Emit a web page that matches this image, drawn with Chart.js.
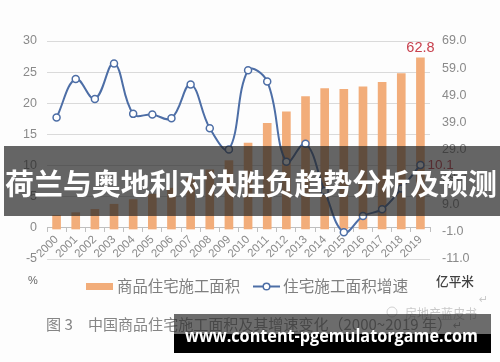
<!DOCTYPE html>
<html><head><meta charset="utf-8">
<script src="https://cdn.jsdelivr.net/npm/chart.js@4"></script>
<style>html,body{margin:0;padding:0;background:#fdfdfd}#c{display:block}</style>
</head><body>
<canvas id="c" width="500" height="362"></canvas>
<script>
const years = ['2000','2001','2002','2003','2004','2005','2006','2007','2008','2009','2010','2011','2012','2013','2014','2015','2016','2017','2018','2019'];
const areaValues = [5.0, 6.0, 7.2, 9.1, 10.8, 12.8, 15.0, 18.7, 21.7, 25.1, 31.5, 38.8, 43.0, 48.6, 51.5, 51.3, 52.2, 53.8, 57.0, 62.8];
const growthValues = [17.7, 23.9, 20.7, 26.4, 18.3, 18.2, 17.6, 23.0, 16.0, 12.6, 25.3, 23.5, 10.6, 13.5, 5.9, -0.7, 1.9, 3.0, 6.3, 10.1];
const seriesNames = ['商品住宅施工面积', '住宅施工面积增速'];
const leftAxisRange = [-5, 30, 5];
const rightAxisRange = [-11, 69, 10];
const titleText = '荷兰与奥地利对决胜负趋势分析及预测';
const captionNum = '图 3';
const captionText = '中国商品住宅施工面积及其增速变化（2000~2019 年）';
const watermarkText = '房地产蓝皮书';
const bannerText = 'www.content-pgemulatorgame.com';

const BAR_COLOR = '#f2ad7a';
const LINE_COLOR = '#4d6ea6';
const CJK = '"Noto Sans CJK SC", sans-serif';

function fitText(ctx, text, x, y, width, align) {
  const w = ctx.measureText(text).width;
  ctx.save();
  ctx.translate(x, y);
  if (w > 0) ctx.scale(width / w, 1);
  ctx.textAlign = 'left';
  ctx.fillText(text, 0, 0);
  ctx.restore();
}

const decor = {
  id: 'decor',
  afterDraw(chart) {
    const ctx = chart.ctx;
    const barMeta = chart.getDatasetMeta(1);
    const lineMeta = chart.getDatasetMeta(0);
    const last = areaValues.length - 1;
    // data labels
    ctx.save();
    ctx.font = '14.5px "Liberation Sans", Arial, sans-serif';
    ctx.fillStyle = '#c8414e';
    ctx.textAlign = 'center';
    ctx.textBaseline = 'alphabetic';
    const bEl = barMeta.data[last];
    ctx.fillText(areaValues[last].toFixed(1), bEl.x, bEl.y - 6);
    const pEl = lineMeta.data[last];
    ctx.font = '13.5px "Liberation Sans", Arial, sans-serif';
    ctx.textAlign = 'left';
    ctx.textBaseline = 'middle';
    ctx.fillText(growthValues[last].toFixed(1), pEl.x + 7, pEl.y);

    // legend
    ctx.fillStyle = BAR_COLOR;
    ctx.fillRect(86, 283, 27, 7);
    ctx.fillStyle = '#7f7f7f';
    ctx.font = '15.4px ' + CJK;
    ctx.textBaseline = 'middle';
    fitText(ctx, seriesNames[0], 117, 286.5, 123);
    ctx.strokeStyle = LINE_COLOR;
    ctx.lineWidth = 2;
    ctx.beginPath(); ctx.moveTo(253, 286.5); ctx.lineTo(280, 286.5); ctx.stroke();
    ctx.beginPath(); ctx.arc(266.5, 286.5, 3.3, 0, Math.PI * 2);
    ctx.fillStyle = '#fff'; ctx.fill(); ctx.lineWidth = 1.5; ctx.stroke();
    ctx.fillStyle = '#7f7f7f';
    fitText(ctx, seriesNames[1], 283, 286.5, 125);

    // unit labels
    ctx.fillStyle = '#666';
    ctx.font = '11px "Liberation Sans", Arial, sans-serif';
    ctx.fillText('%', 28, 280.5);
    ctx.fillStyle = '#404040';
    ctx.font = '500 13px ' + CJK;
    fitText(ctx, '亿平米', 436, 281, 38);

    // watermark
    ctx.fillStyle = '#c9c9c9';
    ctx.strokeStyle = '#d0d0d0';
    ctx.lineWidth = 1;
    ctx.beginPath(); ctx.arc(392, 312, 5, 0, Math.PI * 2); ctx.stroke();
    ctx.font = '13px ' + CJK;
    fitText(ctx, watermarkText, 405, 313, 72);
    ctx.font = '11px "DejaVu Sans", sans-serif';
    ctx.fillText('↵', 479, 300);

    // caption
    ctx.fillStyle = '#858585';
    ctx.font = '15px ' + CJK;
    fitText(ctx, captionNum, 46, 324, 27);
    fitText(ctx, captionText, 88, 324, 364);
    ctx.fillStyle = '#9a9a9a';
    ctx.font = '11px "DejaVu Sans", sans-serif';
    ctx.fillText('↵', 453, 326);

    // title band
    ctx.fillStyle = 'rgba(35,35,35,0.7)';
    ctx.fillRect(4, 146, 496, 70);
    ctx.fillStyle = '#ffffff';
    ctx.font = 'bold 29px ' + CJK;
    ctx.textBaseline = 'middle';
    fitText(ctx, titleText, 5, 184, 492);

    // bottom banner
    ctx.fillStyle = 'rgba(45,45,45,0.7)';
    ctx.fillRect(174, 314, 317, 20);
    ctx.fillStyle = '#000';
    ctx.fillRect(174, 334, 317, 19);
    ctx.fillStyle = '#fff';
    ctx.font = 'bold 18px "Open Sans", "DejaVu Sans", sans-serif';
    ctx.textBaseline = 'alphabetic';
    fitText(ctx, bannerText, 185, 342, 293);
    ctx.restore();
  }
};

new Chart(document.getElementById('c'), {
  data: {
    labels: years,
    datasets: [
      { type: 'line', label: seriesNames[1], data: growthValues, yAxisID: 'y',
        borderColor: LINE_COLOR, borderWidth: 2, tension: 0.4,
        pointRadius: 3.5, pointBackgroundColor: '#fff', pointBorderColor: LINE_COLOR, pointBorderWidth: 1.5,
        order: 0 },
      { type: 'bar', label: seriesNames[0], data: areaValues, yAxisID: 'y1',
        backgroundColor: BAR_COLOR, barThickness: 8, order: 1 }
    ]
  },
  options: {
    responsive: false, animation: false, devicePixelRatio: 1,
    layout: { padding: { top: 41, bottom: 103, left: 0, right: 0 } },
    plugins: { legend: { display: false }, tooltip: { enabled: false } },
    scales: {
      x: {
        position: { y: 0 }, offset: true,
        grid: { display: true, drawOnChartArea: false, drawTicks: true, tickLength: 4, offset: true, color: '#bfbfbf' },
        border: { display: true, color: '#bfbfbf', width: 1 },
        ticks: { minRotation: 45, maxRotation: 45, autoSkip: false, padding: 1, color: '#8a8a8a',
                 font: { size: 11.5, family: '"Liberation Sans", Arial, sans-serif' } }
      },
      y: {
        position: 'left', min: leftAxisRange[0], max: leftAxisRange[1],
        ticks: { stepSize: leftAxisRange[2], padding: 10, color: '#8a8a8a',
                 font: { size: 12.5, family: '"Liberation Sans", Arial, sans-serif' } },
        grid: { color: '#dadada', drawTicks: false, lineWidth: 1 },
        border: { display: false },
        afterFit(s) { s.width = 47; }
      },
      y1: {
        position: 'right', min: rightAxisRange[0], max: rightAxisRange[1],
        ticks: { stepSize: rightAxisRange[2], padding: 12, color: '#8a8a8a',
                 callback: v => Number(v).toFixed(1),
                 font: { size: 12.5, family: '"Liberation Sans", Arial, sans-serif' } },
        grid: { display: false, drawTicks: false },
        border: { display: false },
        afterFit(s) { s.width = 70; }
      }
    }
  },
  plugins: [decor]
});
</script>
</body></html>
